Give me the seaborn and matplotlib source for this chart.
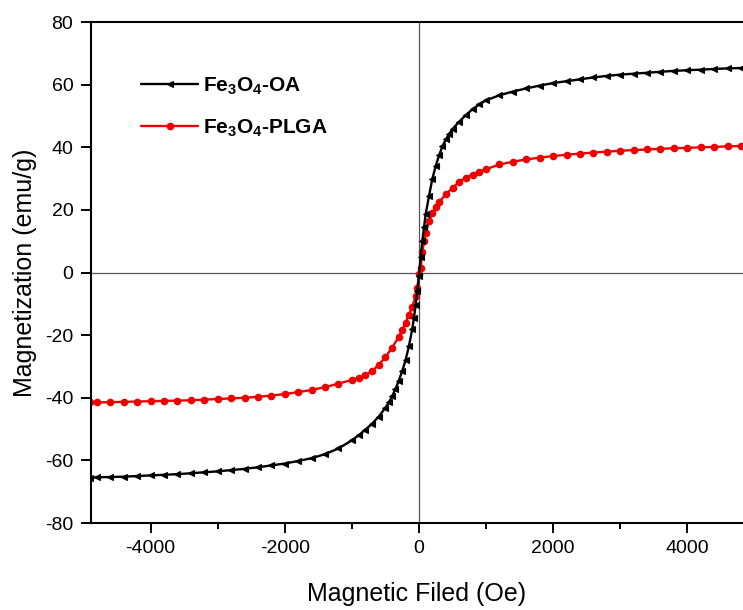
import numpy as np
import pandas as pd
import matplotlib
matplotlib.use("Agg")
import matplotlib.pyplot as plt
import seaborn as sns

# ---- data ----
oa_field = [-4900, -4800, -4600, -4400, -4200, -4000, -3800, -3600, -3400, -3200,
            -3000, -2800, -2600, -2400, -2200, -2000, -1800, -1600, -1400, -1200,
            -1000, -900, -800, -700, -600, -500, -450, -400, -350, -300, -250,
            -200, -150, -100, -75, -50, -25, 0, 25, 50, 75, 100, 150, 200, 250,
            300, 350, 400, 450, 500, 600, 700, 800, 900, 1000, 1200, 1400, 1600,
            1800, 2000, 2200, 2400, 2600, 2800, 3000, 3200, 3400, 3600, 3800,
            4000, 4200, 4400, 4600, 4800, 4900]
oa_mag = [-65.5, -65.4, -65.3, -65.2, -65.0, -64.8, -64.6, -64.4, -64.1, -63.8,
          -63.5, -63.1, -62.7, -62.2, -61.6, -61.0, -60.2, -59.3, -58.0, -56.2,
          -53.6, -52.0, -50.2, -48.3, -46.0, -43.2, -41.5, -39.5, -37.2, -34.5, -31.5,
          -28.0, -23.5, -18.0, -14.5, -10.5, -6.0, -1.0, 5.0, 10.0, 14.5, 18.6, 24.5, 30.0, 34.0,
          37.5, 40.3, 42.5, 44.3, 45.8, 48.2, 50.3, 52.2, 53.7, 55.0, 56.6, 57.8, 58.8,
          59.7, 60.5, 61.1, 61.7, 62.3, 62.8, 63.2, 63.5, 63.8, 64.1, 64.4,
          64.6, 64.8, 65.0, 65.2, 65.3, 65.4]

plga_field = [-4900, -4800, -4600, -4400, -4200, -4000, -3800, -3600, -3400, -3200,
              -3000, -2800, -2600, -2400, -2200, -2000, -1800, -1600, -1400, -1200,
              -1000, -900, -800, -700, -600, -500, -400, -300, -250, -200, -150,
              -100, -50, -25, 0, 25, 50, 75, 100, 150, 200, 250, 300, 400, 500,
              600, 700, 800, 900, 1000, 1200, 1400, 1600, 1800, 2000, 2200, 2400,
              2600, 2800, 3000, 3200, 3400, 3600, 3800, 4000, 4200, 4400, 4600,
              4800, 4900]
plga_mag = [-41.5, -41.5, -41.4, -41.3, -41.2, -41.1, -41.0, -40.9, -40.8, -40.6,
            -40.4, -40.2, -40.0, -39.7, -39.3, -38.8, -38.2, -37.5, -36.6, -35.5,
            -34.3, -33.7, -32.8, -31.5, -29.5, -27.0, -24.0, -20.5, -18.5, -16.0, -13.5,
            -11.0, -7.5, -5.0, -0.5, 1.5, 6.5, 10.0, 12.5, 16.5, 19.0, 21.0, 22.5, 25.0, 27.0,
            29.0, 30.3, 31.3, 32.2, 33.0, 34.5, 35.4, 36.1, 36.7, 37.2, 37.6, 38.0,
            38.3, 38.6, 38.9, 39.1, 39.3, 39.5, 39.7, 39.8, 40.0, 40.1, 40.3,
            40.4, 40.5]

labels = [r"Fe$_3$O$_4$-OA", r"Fe$_3$O$_4$-PLGA"]
x_ticks = [-4000, -2000, 0, 2000, 4000]
y_ticks = [-80, -60, -40, -20, 0, 20, 40, 60, 80]

# ---- style ----
sns.set_style("ticks")
plt.rcParams["font.family"] = ["Liberation Sans", "DejaVu Sans"]
plt.rcParams["mathtext.default"] = "regular"
plt.rcParams["axes.unicode_minus"] = False
plt.rcParams["text.color"] = "black"
plt.rcParams["axes.labelcolor"] = "black"
plt.rcParams["xtick.color"] = "black"
plt.rcParams["ytick.color"] = "black"

fig = plt.figure(figsize=(7.43, 6.10), dpi=100)
ax = fig.add_axes([0.1221, 0.1426, 0.8779, 0.8213])

ax.axhline(0, color="#555555", lw=0.9, zorder=1)
ax.axvline(0, color="#555555", lw=0.9, zorder=1)

df_oa = pd.DataFrame({"field": oa_field, "mag": oa_mag})
df_pl = pd.DataFrame({"field": plga_field, "mag": plga_mag})

sns.lineplot(data=df_oa, x="field", y="mag", ax=ax, color="black", lw=1.7,
             marker="<", markersize=4, markeredgewidth=0.8, markeredgecolor="black",
             estimator=None, label=labels[0], zorder=3)
sns.lineplot(data=df_pl, x="field", y="mag", ax=ax, color="#ee0000", lw=1.7,
             marker="o", markersize=5.5, markeredgewidth=0, estimator=None,
             label=labels[1], zorder=2)

ax.set_xlim(-4893, 4830)
ax.set_ylim(-80, 80)
ax.set_xticks(x_ticks)
ax.set_xticks([-3000, -1000, 1000, 3000], minor=True)
ax.set_yticks(y_ticks)
ax.tick_params(axis="both", which="major", direction="out", length=7.5, width=1.4,
               labelsize=14, pad=5, color="black", labelcolor="black")
ax.tick_params(axis="x", which="minor", direction="out", length=4.5, width=1.4, color="black")

for side in ["left", "bottom", "top"]:
    ax.spines[side].set_linewidth(1.5)
    ax.spines[side].set_color("black")
ax.spines["right"].set_visible(False)

ax.set_xlabel("Magnetic Filed (Oe)", fontsize=18, labelpad=18)
ax.set_ylabel("Magnetization (emu/g)", fontsize=18, labelpad=6)

leg = ax.legend(loc="upper left", bbox_to_anchor=(0.077, 0.893), frameon=False,
                handlelength=2.75, handletextpad=0.25, labelspacing=1.0,
                borderpad=0, borderaxespad=0,
                prop={"size": 15, "weight": "bold"})

fig.savefig("out.png", dpi=100)
